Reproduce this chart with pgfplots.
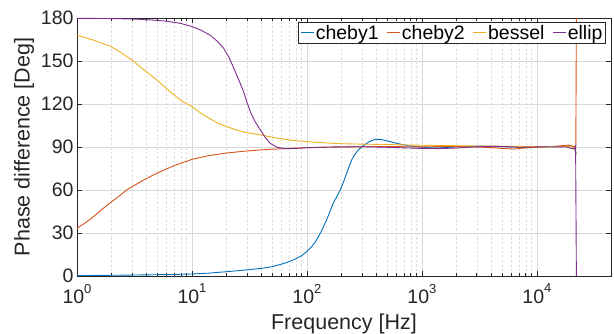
\documentclass[border=0pt]{standalone}
\usepackage{fontspec}
\setmainfont{Liberation Sans}
\usepackage{pgfplots}
\pgfplotsset{compat=1.18}
\definecolor{mblue}{rgb}{0,0.447,0.741}
\definecolor{morange}{rgb}{0.85,0.325,0.098}
\definecolor{myellow}{rgb}{0.929,0.694,0.125}
\definecolor{mpurple}{rgb}{0.494,0.184,0.556}
\definecolor{axgray}{rgb}{0.15,0.15,0.15}
\newcommand{\tenpow}[1]{10\raisebox{10.5pt}{\fontsize{13}{13}\selectfont #1}}
\begin{document}
\begin{tikzpicture}
\begin{axis}[
  xmode=log,
  scale only axis,
  width=534pt, height=258pt,
  xmin=1, xmax=44100, ymin=0, ymax=180,
  xtick={1,10,100,1000,10000},
  xticklabels={\tenpow{0},\tenpow{1},\tenpow{2},\tenpow{3},\tenpow{4}},
  ytick={0,30,60,90,120,150,180},
  yticklabels={0,30,60,90,120,150,180},
  tick label style={font=\fontsize{19.5}{22}\selectfont, color=axgray},
  xticklabel style={yshift=-4.5pt},
  tick align=inside,
  major tick length=5pt,
  minor tick length=3pt,
  grid=both,
  major grid style={color=black!15, line width=0.6pt},
  minor grid style={color=black!13, line width=0.5pt, dash pattern=on 2.5pt off 2pt},
  axis line style={color=axgray, line width=0.7pt},
  tick style={color=axgray, line width=0.6pt},
  xlabel={Frequency [Hz]},
  ylabel={Phase difference [Deg]},
  xlabel style={font=\fontsize{21.5}{24}\selectfont, color=axgray, at={(axis description cs:0.5,0)}, anchor=north, yshift=-34pt},
  ylabel style={font=\fontsize{21.5}{24}\selectfont, color=axgray, at={(axis description cs:-0.0989,0.5)}, anchor=center},
  legend columns=4,
  legend style={at={(1,1)}, anchor=north east, xshift=-5pt, yshift=-4pt,
    font=\fontsize{19.5}{22}\selectfont, draw=axgray, line width=0.6pt,
    inner xsep=2pt, inner ysep=1.5pt, nodes={inner sep=1.2pt},
    /tikz/every even column/.append style={column sep=7pt}},
  legend cell align=left,
  legend image code/.code={\draw[#1] (0pt,0pt) -- (13pt,0pt);},
  every axis plot/.append style={line width=0.9pt},
]
\coordinate (sw) at (rel axis cs:0,0);
% cheby1
\addplot[color=mblue, draw=mblue] coordinates {
(1,0.3) (1.5,0.4) (2,0.5) (3,0.65) (5,0.9) (7,1.1) (10,1.4) (14,2.0) (20,3.0)
(28,4.0) (40,5.3) (50,6.5) (60,8.3) (70,10) (80,12) (90,14.2) (100,17.2)
(110,20.5) (121,25) (134,31.5) (148,39) (160,45.8) (169,50.7) (185,56.5)
(200,62) (220,71) (233,76.5) (245,81) (262,85) (280,88) (309,91) (350,93.8)
(380,95) (405,95.4) (440,95.2) (480,94.6) (560,93.2) (641,92.1) (750,91)
(840,90.4) (1000,89.9) (1200,89.4) (1400,89.3) (1700,89.7) (2000,90.2)
(3000,90.6) (4000,90.5) (5000,90.2) (8000,89.9) (12000,90.1) (15000,90.3)
(17000,90.4) (19000,90.8) (20000,90.9) (21000,89) (21500,87.5) (21800,86) (22050,85)
};
\addlegendentry{cheby1}
% cheby2
\addplot[color=morange, draw=morange] coordinates {
(1,33.3) (1.2,37.5) (1.39,41.4) (1.65,46.5) (2,51.8) (2.35,56) (2.7,60)
(3.2,63.5) (4,68) (5.3,72.8) (7,77) (10,81.4) (14,84) (20,85.8) (28,87)
(40,88) (60,88.8) (99,89.5) (200,90) (500,90.3) (1000,90.1) (2000,90.4)
(3000,90.0) (4000,89.6) (5000,89) (6200,88.6) (7000,88.9) (8000,89.4)
(10000,89.8) (12000,90) (15000,90.6) (17000,91) (19000,91.3) (20000,91)
(20500,90.2) (21200,90.3) (21800,91) (22050,180)
};
\addlegendentry{cheby2}
% bessel
\addplot[color=myellow, draw=myellow] coordinates {
(1,168) (1.4,164.5) (1.95,160.3) (2.4,156) (3,150.7) (3.8,144) (4.96,136.7)
(6.45,128.6) (8,122.5) (10,118.1) (12,113.5) (14,110.2) (17,106.5) (20,104.2)
(25,101.6) (30,100) (39.4,98.4) (55,96.2) (75,94.6) (100,93.7) (150,92.8)
(200,92.3) (300,92) (500,91.7) (1000,91.2) (3000,90.7) (10000,90.3)
(20000,90.2) (21000,89.5) (21600,87.5) (22050,85)
};
\addlegendentry{bessel}
% ellip
\addplot[color=mpurple, draw=mpurple] coordinates {
(1,179.8) (2,179.6) (3,179.3) (4,178.9) (6,177.8) (8,176.2) (10,174) (12,171.5)
(14.4,168) (16.5,164) (18.8,159) (21,152.5) (23.1,145) (25.5,137) (28.1,128.6)
(30,121.5) (32.2,114.6) (35.5,107.5) (39.4,101.8) (43.5,96.5) (48,92.5)
(55,89.8) (65,88.8) (80,89) (100,89.5) (150,90) (300,90.2) (500,89.8)
(700,89.4) (1000,89.0) (1400,88.9) (2000,89.3) (2500,89.8) (4000,90.5)
(5500,90.3) (7000,89.8) (12000,90.2) (18000,90) (20500,88.8) (21300,89)
(21700,90.5) (22050,0)
};
\addlegendentry{ellip}
\end{axis}
\pgfresetboundingbox
\path (sw) ++(-77pt,-58pt) rectangle ++(614pt,334pt);
\end{tikzpicture}
\end{document}
